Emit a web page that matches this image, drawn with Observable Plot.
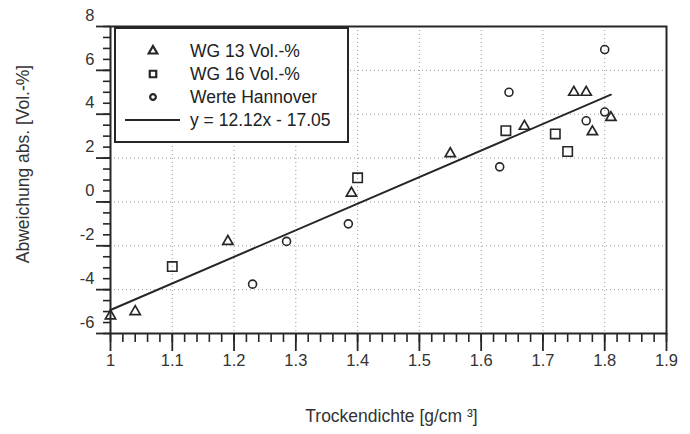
<!DOCTYPE html>
<html>
<head>
<meta charset="utf-8">
<script src="https://cdn.jsdelivr.net/npm/d3@7"></script>
<script src="https://cdn.jsdelivr.net/npm/@observablehq/plot@0.6"></script>
<style>
  html, body { margin: 0; padding: 0; background: #fff; }
  svg { display: block; }
</style>
</head>
<body>
<div id="chart"></div>
<script>
// --- data ---
const wg13X = [1.00, 1.04, 1.19, 1.39, 1.55, 1.67, 1.75, 1.77, 1.78, 1.81];
const wg13Y = [-5.2, -5.0, -1.8, 0.4, 2.2, 3.45, 5.0, 5.0, 3.2, 3.85];
const wg16X = [1.10, 1.40, 1.64, 1.72, 1.74];
const wg16Y = [-2.95, 1.1, 3.25, 3.1, 2.3];
const hanX = [1.23, 1.285, 1.385, 1.63, 1.645, 1.77, 1.80, 1.80];
const hanY = [-3.75, -1.8, -1.0, 1.6, 5.0, 3.7, 4.1, 6.95];
const fitX = [1.00, 1.81];
const fitY = [-4.93, 4.89];

const xMajor = [1, 1.1, 1.2, 1.3, 1.4, 1.5, 1.6, 1.7, 1.8, 1.9];
const xMinor = d3.range(0, 46).map(i => +(1 + i * 0.02).toFixed(2));
const yMajor = [-6, -4, -2, 0, 2, 4, 6, 8];
const yMinor = d3.range(0, 29).map(i => -6 + i * 0.5);
const xGrid = [1.1, 1.2, 1.3, 1.4, 1.5, 1.6, 1.7, 1.8];
const yGrid = [-4, -2, 0, 2, 4, 6];

const legendLabels = ["WG 13 Vol.-%", "WG 16 Vol.-%", "Werte Hannover", "y = 12.12x - 17.05"];
const xTitle = "Trockendichte [g/cm ³]";
const yTitle = "Abweichung abs. [Vol.-%]";

const pts = (xs, ys) => xs.map((x, i) => ({x, y: ys[i]}));
const ink = "#262626";
const font = "Liberation Sans, Arial, sans-serif";

const svg = Plot.plot({
  width: 690,
  height: 434,
  marginLeft: 110,
  marginRight: 24,
  marginTop: 26,
  marginBottom: 101,
  style: {fontFamily: font, background: "#fff", color: ink},
  x: {domain: [1, 1.9], label: null},
  y: {domain: [-6, 8], label: null},
  marks: [
    Plot.ruleX(xGrid, {stroke: "#9a9a9a", strokeDasharray: "1,3", strokeWidth: 1}),
    Plot.ruleY(yGrid, {stroke: "#9a9a9a", strokeDasharray: "1,3", strokeWidth: 1}),
    Plot.line(pts(fitX, fitY), {x: "x", y: "y", stroke: ink, strokeWidth: 2}),
    Plot.dot(pts(wg13X, wg13Y), {x: "x", y: "y", symbol: "triangle", r: 3.8, stroke: ink, strokeWidth: 1.7, fill: "none"}),
    Plot.dot(pts(wg16X, wg16Y), {x: "x", y: "y", symbol: "square", r: 5.3, stroke: ink, strokeWidth: 1.6, fill: "none"}),
    Plot.dot(pts(hanX, hanY), {x: "x", y: "y", symbol: "circle", r: 4, stroke: ink, strokeWidth: 1.6, fill: "none"}),
    Plot.frame({stroke: ink, strokeWidth: 2}),
    Plot.axisX(xMinor, {tickSize: 9, tickFormat: () => "", stroke: ink, strokeWidth: 1.6}),
    Plot.axisX(xMajor, {tickSize: 18, tickPadding: 3, fontSize: 16.5, fill: "#333", stroke: ink, strokeWidth: 1.8, tickFormat: d => String(d)}),
    Plot.axisY(yMinor, {tickSize: 7, tickFormat: () => "", stroke: ink, strokeWidth: 1.6}),
    Plot.axisY(yMajor, {tickSize: 14, tickFormat: () => "", stroke: ink, strokeWidth: 1.8}),
    Plot.axisY(yMajor, {tickSize: 0, tickPadding: 16, dy: -11, fontSize: 16.5, fill: "#333", tickFormat: d => String(d)}),
    Plot.text([xTitle], {frameAnchor: "bottom", dy: 88, dx: 3, fontSize: 17.5, fill: "#333"}),
    Plot.text([yTitle], {frameAnchor: "left", textAnchor: "middle", rotate: -90, dx: -87, dy: -16, fontSize: 17.5, fill: "#333"})
  ]
});

// legend box (inside the frame, top-left)
const g = d3.select(svg).append("g").attr("font-family", font).attr("text-anchor", "start");
g.append("rect").attr("x", 115).attr("y", 28).attr("width", 233).attr("height", 114)
  .attr("fill", "#fff").attr("stroke", ink).attr("stroke-width", 2);
const rowsY = [51, 74, 97, 120];
const syms = [d3.symbolTriangle, d3.symbolSquare, d3.symbolCircle];
const sizes = [32, 42, 26];
syms.forEach((s, i) => {
  g.append("path").attr("d", d3.symbol(s, sizes[i])())
    .attr("transform", `translate(153,${rowsY[i]})`)
    .attr("fill", "none").attr("stroke", ink).attr("stroke-width", 2.2);
});
g.append("line").attr("x1", 125).attr("x2", 180).attr("y1", rowsY[3]).attr("y2", rowsY[3])
  .attr("stroke", ink).attr("stroke-width", 2);
legendLabels.forEach((t, i) => {
  g.append("text").attr("x", 190).attr("y", rowsY[i]).attr("dy", "0.35em")
    .attr("text-anchor", "start")
    .attr("font-size", 17.5).attr("fill", "#222").text(t);
});

document.getElementById("chart").appendChild(svg);
</script>
</body>
</html>
